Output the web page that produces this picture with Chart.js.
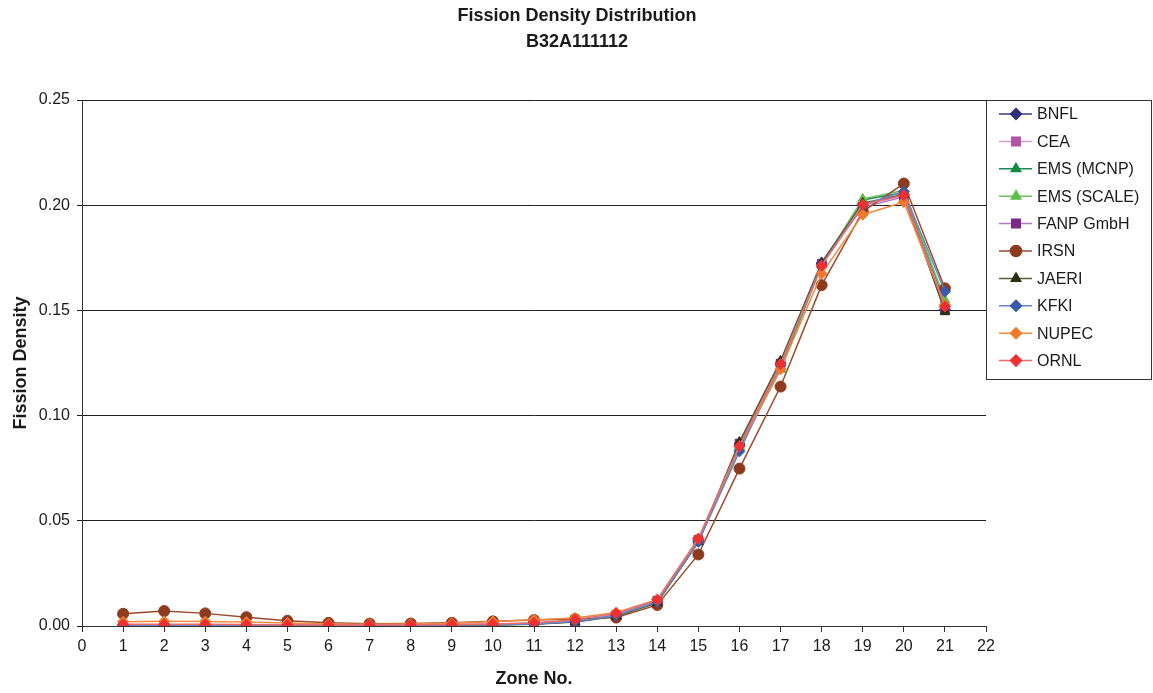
<!DOCTYPE html>
<html>
<head>
<meta charset="utf-8">
<script src="https://cdn.jsdelivr.net/npm/chart.js@4"></script>
<style>
  html, body { margin: 0; padding: 0; background: #fff; }
  #wrap { width: 1153px; height: 693px; position: relative; }
</style>
</head>
<body>
<div id="wrap"><canvas id="chart" width="1153" height="693"></canvas></div>
<script>
// zones on the x axis
const zones = [1, 2, 3, 4, 5, 6, 7, 8, 9, 10, 11, 12, 13, 14, 15, 16, 17, 18, 19, 20, 21];
const xTicks = [0, 1, 2, 3, 4, 5, 6, 7, 8, 9, 10, 11, 12, 13, 14, 15, 16, 17, 18, 19, 20, 21, 22];
const yTicks = [0, 0.05, 0.10, 0.15, 0.20, 0.25];

const labs = ["BNFL", "CEA", "EMS (MCNP)", "EMS (SCALE)", "FANP GmbH", "IRSN", "JAERI", "KFKI", "NUPEC", "ORNL"];

const bnfl  = [0.0005, 0.0005, 0.0005, 0.0005, 0.0005, 0.0005, 0.0005, 0.0005, 0.0006, 0.0007, 0.0010, 0.0022, 0.0052, 0.0117, 0.0405, 0.0865, 0.1250, 0.1725, 0.2005, 0.2050, 0.1505];
const cea   = [0.0006, 0.0006, 0.0006, 0.0006, 0.0006, 0.0005, 0.0005, 0.0006, 0.0007, 0.0008, 0.0011, 0.0023, 0.0053, 0.0118, 0.0408, 0.0860, 0.1245, 0.1720, 0.2000, 0.2045, 0.1500];
const emsM  = [0.0004, 0.0004, 0.0004, 0.0004, 0.0004, 0.0004, 0.0004, 0.0004, 0.0005, 0.0006, 0.0009, 0.0020, 0.0048, 0.0112, 0.0398, 0.0850, 0.1220, 0.1715, 0.2025, 0.2060, 0.1540];
const emsS  = [0.0004, 0.0004, 0.0004, 0.0004, 0.0004, 0.0004, 0.0004, 0.0004, 0.0005, 0.0006, 0.0009, 0.0021, 0.0050, 0.0114, 0.0402, 0.0855, 0.1230, 0.1718, 0.2030, 0.2070, 0.1550];
const fanp  = [0.0005, 0.0005, 0.0005, 0.0005, 0.0005, 0.0005, 0.0005, 0.0005, 0.0006, 0.0007, 0.0010, 0.0022, 0.0053, 0.0120, 0.0410, 0.0868, 0.1248, 0.1722, 0.1990, 0.2040, 0.1500];
const irsn  = [0.0058, 0.0071, 0.0060, 0.0042, 0.0025, 0.0015, 0.0011, 0.0012, 0.0015, 0.0022, 0.0028, 0.0033, 0.0040, 0.0100, 0.0340, 0.0748, 0.1138, 0.1620, 0.1970, 0.2103, 0.1605];
const jaeri = [0.0003, 0.0003, 0.0003, 0.0003, 0.0003, 0.0003, 0.0003, 0.0003, 0.0004, 0.0005, 0.0008, 0.0019, 0.0046, 0.0110, 0.0400, 0.0875, 0.1260, 0.1728, 0.2010, 0.2050, 0.1495];
const kfki  = [0.0004, 0.0004, 0.0004, 0.0004, 0.0004, 0.0004, 0.0004, 0.0004, 0.0005, 0.0006, 0.0009, 0.0021, 0.0050, 0.0115, 0.0400, 0.0830, 0.1240, 0.1715, 0.2000, 0.2065, 0.1590];
const nupec = [0.0020, 0.0022, 0.0021, 0.0019, 0.0014, 0.0010, 0.0008, 0.0009, 0.0013, 0.0021, 0.0030, 0.0038, 0.0064, 0.0125, 0.0415, 0.0855, 0.1220, 0.1675, 0.1955, 0.2015, 0.1525];
const ornl  = [0.0008, 0.0008, 0.0008, 0.0007, 0.0006, 0.0005, 0.0005, 0.0006, 0.0007, 0.0009, 0.0015, 0.0030, 0.0060, 0.0125, 0.0415, 0.0855, 0.1245, 0.1712, 0.2003, 0.2048, 0.1518];

const series = [bnfl, cea, emsM, emsS, fanp, irsn, jaeri, kfki, nupec, ornl];
const lineCols = ["#3a3a85", "#d79ad0", "#1f8a50", "#6cc060", "#b07ac0", "#9a4a2a", "#55603a", "#6a86c8", "#f08a40", "#f06a6a"];
const markCols = ["#2e2e78", "#b055a8", "#158a45", "#5cbf4a", "#7a2a8a", "#8e3a1e", "#2a3010", "#3a5aaa", "#f07a2a", "#ee3030"];
const shapes = ["rectRot", "rect", "triangle", "triangle", "rect", "circle", "triangle", "rectRot", "rectRot", "rectRot"];

const FONT = "'Liberation Sans', Arial, sans-serif";

const datasets = labs.map((name, i) => ({
  label: name,
  data: zones.map((z, j) => ({ x: z, y: series[i][j] })),
  borderColor: lineCols[i],
  backgroundColor: markCols[i],
  pointBorderColor: markCols[i],
  pointBackgroundColor: markCols[i],
  pointStyle: shapes[i],
  pointRadius: shapes[i] == "rect" ? 6 : 5.5,
  pointBorderWidth: 1,
  borderWidth: 1.5,
  tension: 0,
  order: 9 - i
}));

// title and boxed legend drawn by hand
const decor = {
  id: "decor",
  afterDraw(chart) {
    const c = chart.ctx;
    c.save();
    c.fillStyle = "#1a1a1a";
    c.textAlign = "center";
    c.textBaseline = "middle";
    c.font = "bold 18px " + FONT;
    c.fillText("Fission Density Distribution", 577, 16);
    c.fillText("B32A111112", 577, 42);

    c.strokeStyle = "#333";
    c.lineWidth = 1;
    c.strokeRect(986.5, 100.5, 165, 279);
    c.font = "16px " + FONT;
    c.textAlign = "left";
    chart.data.datasets.forEach((d, i) => {
      const y = 114 + i * 27.4;
      c.strokeStyle = d.borderColor;
      c.lineWidth = 1.5;
      c.beginPath();
      c.moveTo(999, y);
      c.lineTo(1032, y);
      c.stroke();
      c.fillStyle = d.pointBackgroundColor;
      c.strokeStyle = d.pointBorderColor;
      Chart.helpers.drawPoint(c, { pointStyle: d.pointStyle, radius: d.pointRadius, rotation: 0, borderWidth: 1 }, 1016, y);
      c.fillStyle = "#1a1a1a";
      c.fillText(d.label, 1037, y + 1);
    });
    c.restore();
  }
};

new Chart(document.getElementById("chart"), {
  type: "line",
  data: { datasets },
  options: {
    responsive: false,
    animation: false,
    layout: { padding: { top: 100, right: 167, left: 6, bottom: 0 } },
    plugins: { legend: { display: false }, title: { display: false }, tooltip: { enabled: false } },
    scales: {
      x: {
        type: "linear",
        min: 0, max: 22,
        afterBuildTicks: ax => { ax.ticks = xTicks.map(v => ({ value: v })); },
        afterFit: ax => { ax.height = 67; },
        ticks: { color: "#1a1a1a", font: { size: 16, family: FONT }, padding: 5, maxRotation: 0 },
        grid: { drawOnChartArea: false, color: "#333", tickLength: 6 },
        border: { color: "#333", width: 1 },
        title: { display: true, text: "Zone No.", color: "#1a1a1a", font: { size: 18, weight: "bold", family: FONT }, padding: { top: 0, bottom: 3 } }
      },
      y: {
        min: 0, max: 0.25,
        afterBuildTicks: ax => { ax.ticks = yTicks.map(v => ({ value: v })); },
        afterFit: ax => { ax.width = 76; },
        ticks: { color: "#1a1a1a", font: { size: 16, family: FONT }, padding: 7, callback: v => v.toFixed(2) },
        grid: { color: "#222", lineWidth: 1, tickLength: 5 },
        border: { color: "#333", width: 1 },
        title: { display: true, text: "Fission Density", color: "#1a1a1a", font: { size: 18, weight: "bold", family: FONT }, padding: { top: 4, bottom: 4 } }
      }
    }
  },
  plugins: [decor]
});
</script>
</body>
</html>
